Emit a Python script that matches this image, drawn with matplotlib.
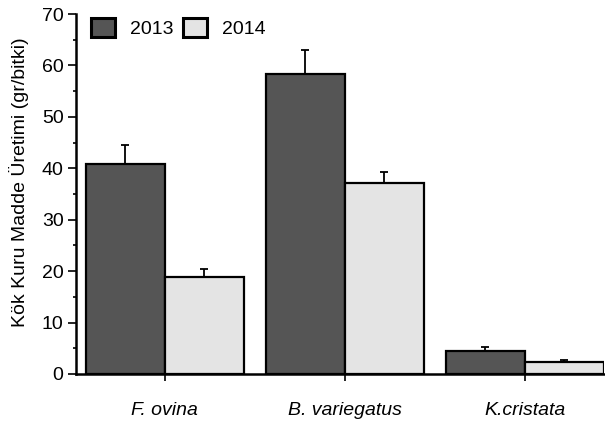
import matplotlib

matplotlib.use('agg')
import matplotlib.pyplot as plt
import numpy as np

plt.rcParams['font.family'] = ['Liberation Sans', 'DejaVu Sans']

species = ['F. ovina', 'B. variegatus', 'K.cristata']
years = ['2013', '2014']
mean_2013 = [40.9, 58.4, 4.5]
err_2013 = [3.6, 4.6, 0.8]
mean_2014 = [18.9, 37.2, 2.3]
err_2014 = [1.6, 2.1, 0.4]

colors = ['#555555', '#e4e4e4']
width = 0.44

W, H = 605, 426
fig = plt.figure(figsize=(W / 100, H / 100), dpi=100)
ax = fig.add_axes([76 / W, 1 - 374 / H, 528 / W, 360 / H])

x = np.arange(len(species))
for i, (means, errs) in enumerate([(mean_2013, err_2013), (mean_2014, err_2014)]):
    pos = x - width / 2 + i * width
    ax.bar(pos, means, width, color=colors[i], edgecolor='black', linewidth=1.6,
           label=years[i], zorder=2)
    ax.errorbar(pos, means, yerr=[np.zeros(len(errs)), errs], fmt='none',
                ecolor='black', elinewidth=1.3, capsize=3, capthick=1.3, zorder=1)

ax.set_xlim(-0.494, 2.44)
ax.set_ylim(0, 70)
ax.set_yticks(range(0, 71, 10))
ax.set_yticks(range(5, 70, 10), minor=True)
ax.set_xticks(x)
ax.set_xticklabels(species, fontstyle='italic', fontsize=14)
ax.tick_params(axis='x', length=5, width=1.2, pad=15)
ax.tick_params(axis='y', which='major', length=6, width=1.2, labelsize=14, pad=3)
ax.tick_params(axis='y', which='minor', length=2.5, width=1.2)

for side in ['top', 'right']:
    ax.spines[side].set_visible(False)
for side in ['left', 'bottom']:
    ax.spines[side].set_linewidth(1.8)

ax.set_ylabel('Kök Kuru Madde Üretimi (gr/bitki)', fontsize=14)
ax.yaxis.set_label_coords(-0.089, 0.533)

leg = ax.legend(loc='center left', bbox_to_anchor=(91 / W, 1 - 28 / H),
                bbox_transform=fig.transFigure, ncol=2, frameon=False,
                fontsize=14, handlelength=1.24, handleheight=1.08, columnspacing=0.46,
                handletextpad=0.77, borderpad=0, borderaxespad=0)
for h in leg.legend_handles:
    h.set_linewidth(2.2)

plt.savefig('out.png', dpi=100)
